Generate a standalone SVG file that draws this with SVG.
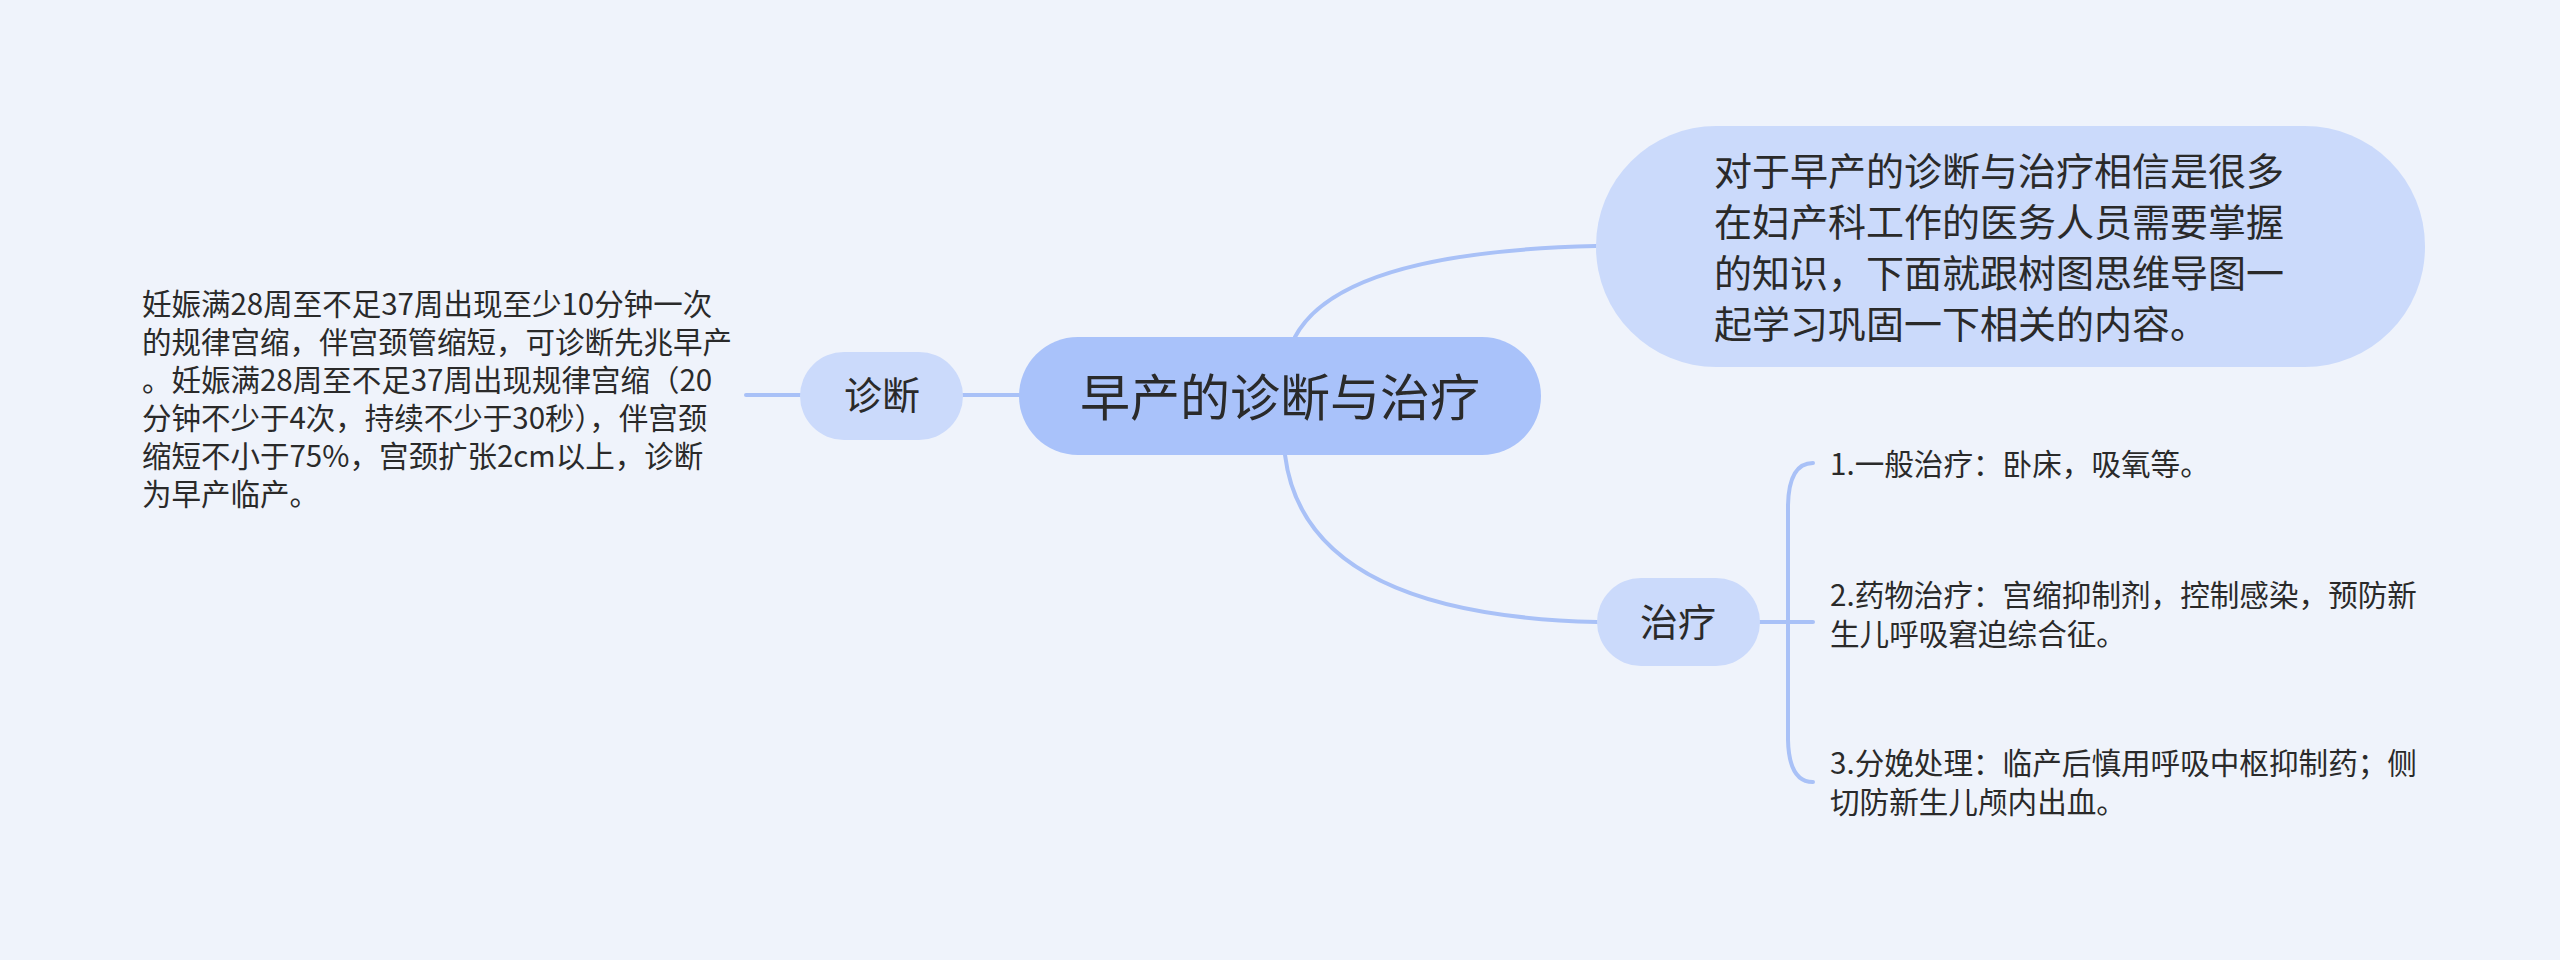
<svg xmlns="http://www.w3.org/2000/svg" width="2560" height="960" viewBox="0 0 2560 960">
<style>
.bg{fill:#eff3fb}
.root{fill:#a9c2fa}
.sub{fill:#cbdafb}
.t{font-family:"Noto Sans CJK SC","Noto Sans",sans-serif;fill:#2a2a2a}
.c{fill:none;stroke:#a9c1f7;stroke-width:4;stroke-linecap:round}
</style>
<rect class="bg" x="0" y="0" width="2560" height="960"/>
<g id="connectors">
<path class="c" d="M746,395 L800,395"/>
<path class="c" d="M963,395 L1019,395"/>
<path class="c" d="M1295,337 Q1340,252 1596,246"/>
<path class="c" d="M1285,455 Q1305,615 1597,622"/>
<path class="c" d="M1760,622 L1813,622"/>
<path class="c" d="M1813,463 Q1789,463 1788,505 L1788,740 Q1789,782 1813,782"/>
</g>
<g id="root">
<rect class="root" x="1019" y="337" width="522" height="118" rx="59"/>
<text class="t" x="1280" y="416" font-size="50" text-anchor="middle">早产的诊断与治疗</text>
</g>
<g id="diag">
<rect class="sub" x="800" y="352" width="163" height="88" rx="44"/>
<text class="t" x="882" y="409" font-size="38" text-anchor="middle">诊断</text>
</g>
<g id="diag-text">
<text class="t" font-size="29.5">
<tspan x="142" y="315">妊娠满28周至不足37周出现至少10分钟一次</tspan>
<tspan x="142" y="353">的规律宫缩，伴宫颈管缩短，可诊断先兆早产</tspan>
<tspan x="142" y="391">。妊娠满28周至不足37周出现规律宫缩（20</tspan>
<tspan x="142" y="429">分钟不少于4次，持续不少于30秒），伴宫颈</tspan>
<tspan x="142" y="467">缩短不小于75%，宫颈扩张2cm以上，诊断</tspan>
<tspan x="142" y="505">为早产临产。</tspan>
</text>
</g>
<g id="intro">
<rect class="sub" x="1596" y="126" width="829" height="241" rx="120"/>
<text class="t" font-size="38">
<tspan x="1714" y="185">对于早产的诊断与治疗相信是很多</tspan>
<tspan x="1714" y="236">在妇产科工作的医务人员需要掌握</tspan>
<tspan x="1714" y="287">的知识，下面就跟树图思维导图一</tspan>
<tspan x="1714" y="338">起学习巩固一下相关的内容。</tspan>
</text>
</g>
<g id="treat">
<rect class="sub" x="1597" y="578" width="163" height="88" rx="44"/>
<text class="t" x="1678" y="636" font-size="38" text-anchor="middle">治疗</text>
</g>
<g id="item1">
<text class="t" font-size="29.6"><tspan x="1830" y="475">1.一般治疗：卧床，吸氧等。</tspan></text>
</g>
<g id="item2">
<text class="t" font-size="29.6"><tspan x="1830" y="606">2.药物治疗：宫缩抑制剂，控制感染，预防新</tspan><tspan x="1830" y="645">生儿呼吸窘迫综合征。</tspan></text>
</g>
<g id="item3">
<text class="t" font-size="29.6"><tspan x="1830" y="774">3.分娩处理：临产后慎用呼吸中枢抑制药；侧</tspan><tspan x="1830" y="813">切防新生儿颅内出血。</tspan></text>
</g>
</svg>
